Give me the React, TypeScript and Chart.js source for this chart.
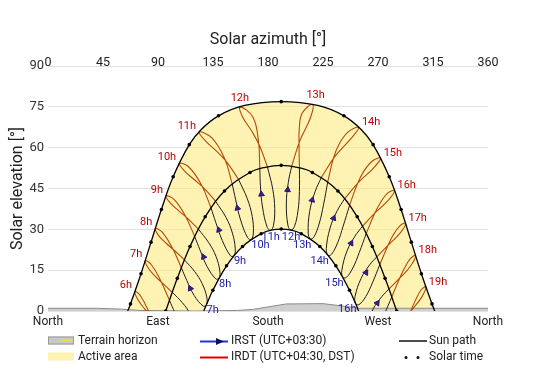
import React, { useEffect, useRef } from 'react';
import { Chart, registerables } from 'chart.js';

Chart.register(...registerables);

// ---------- axis labels ----------
const compassLabels = ['North', 'East', 'South', 'West', 'North'];
const irdtLabels = ['6h', '7h', '8h', '9h', '10h', '11h', '12h', '13h', '14h', '15h', '16h', '17h', '18h', '19h'];
const irstLabels = ['7h', '8h', '9h', '10h', '11h', '12h', '13h', '14h', '15h', '16h'];
const legendTexts = ['Terrain horizon', 'Active area', 'IRST (UTC+03:30)', 'IRDT (UTC+04:30, DST)', 'Sun path', 'Solar time'];

// ---------- sun paths (azimuth °, elevation °), solar-hour marks ----------
const summerAz = [65.2, 67.5, 76.1, 84.3, 92.8, 102.4, 115.6, 125.4, 139.5, 160.9, 190.8, 220.7, 242.1, 256.2, 266.0, 279.2, 288.9, 297.3, 305.5, 314.2, 316.4];
const summerEl = [0, 2.6, 13.7, 25.3, 37.3, 49.3, 61.1, 66.7, 71.7, 75.5, 76.9, 75.5, 71.7, 66.7, 61.1, 49.3, 37.3, 25.3, 13.7, 2.6, 0];
const summerMark = [0, 1, 1, 1, 1, 1, 1, 0, 1, 0, 1, 0, 1, 0, 1, 1, 1, 1, 1, 1, 0];

const equinoxAz = [96.3, 105.8, 116.2, 128.6, 144.4, 165.3, 177.7, 190.8, 203.9, 216.3, 237.2, 253.0, 265.4, 275.8, 285.3];
const equinoxEl = [0, 12.0, 23.7, 34.6, 44.1, 50.9, 52.8, 53.5, 52.8, 50.9, 44.1, 34.6, 23.7, 12.0, 0];
const equinoxMark = [1, 1, 1, 1, 1, 1, 0, 1, 0, 1, 1, 1, 1, 1, 1];

const winterAz = [127.4, 129.9, 134.9, 146.1, 159.2, 174.4, 182.5, 190.8, 199.1, 207.2, 222.4, 235.5, 246.7, 251.8, 254.2];
const winterEl = [0, 2.6, 7.6, 16.6, 23.7, 28.4, 29.7, 30.1, 29.7, 28.4, 23.7, 16.6, 7.6, 2.6, 0];
const winterMark = [0, 0, 1, 1, 1, 1, 0, 1, 0, 1, 1, 1, 1, 0, 0];

// ---------- analemma points: one value per clock hour 5h..18h IRST ----------
const marEqAz = [90.0, 99.4, 109.1, 120.0, 133.3, 150.7, 173.3, 199.4, 223.7, 242.8, 257.4, 269.0, 279.0, 288.4];
const marEqEl = [-8.1, 3.9, 15.9, 27.4, 38.0, 46.7, 52.3, 53.2, 49.1, 41.3, 31.2, 19.9, 8.1, -3.9];
const apr15Az = [82.9, 92.1, 101.6, 112.2, 125.6, 144.5, 172.2, 206.1, 234.8, 254.4, 268.2, 279.0, 288.5, 297.8];
const apr15El = [-0.7, 11.2, 23.3, 35.1, 46.3, 56.0, 62.3, 62.6, 56.8, 47.4, 36.3, 24.5, 12.4, 0.5];
const may15Az = [75.9, 84.6, 93.4, 103.1, 115.4, 134.1, 167.7, 214.8, 248.0, 266.5, 278.7, 288.4, 297.1, 305.9];
const may15El = [5.4, 17.0, 29.0, 41.0, 52.8, 63.6, 71.2, 71.1, 63.4, 52.6, 40.8, 28.8, 16.8, 5.2];
const jun21Az = [71.2, 79.6, 87.8, 96.6, 107.3, 123.6, 157.0, 216.5, 254.4, 272.2, 283.5, 292.5, 300.7, 309.1];
const jun21El = [7.2, 18.5, 30.3, 42.3, 54.3, 65.8, 75.0, 75.9, 67.5, 56.2, 44.2, 32.2, 20.4, 8.9];
const jul25Az = [73.6, 82.3, 90.9, 100.2, 111.6, 128.6, 159.3, 208.0, 245.4, 265.4, 278.1, 287.9, 296.6, 305.2];
const jul25El = [4.1, 15.6, 27.5, 39.6, 51.5, 62.6, 71.2, 72.7, 65.7, 55.1, 43.4, 31.3, 19.3, 7.7];
const aug15Az = [78.7, 87.8, 96.9, 107.0, 119.6, 137.9, 166.8, 205.6, 237.7, 258.1, 271.8, 282.3, 291.6, 300.6];
const aug15El = [1.0, 12.7, 24.8, 36.8, 48.3, 58.7, 66.0, 66.9, 60.9, 51.1, 39.7, 27.8, 15.7, 3.9];
const sep1Az = [84.2, 93.4, 103.0, 113.7, 127.2, 146.1, 173.0, 205.4, 233.2, 252.8, 266.7, 277.7, 287.2, 296.5];
const sep1El = [-1.6, 10.3, 22.4, 34.2, 45.3, 54.8, 60.8, 61.2, 55.6, 46.3, 35.3, 23.6, 11.5, -0.4];
const sepEqAz = [92.3, 101.7, 111.6, 123.0, 137.1, 155.7, 179.5, 205.7, 228.9, 246.8, 260.4, 271.5, 281.3, 290.7];
const sepEqEl = [-5.2, 6.9, 18.8, 30.1, 40.3, 48.5, 53.0, 52.6, 47.5, 38.9, 28.5, 17.1, 5.2, -6.9];
const oct15Az = [null, 110.0, 120.0, 131.5, 145.6, 163.1, 183.9, 205.7, 225.4, 241.5, 254.6, 265.4, 275.1, null];
const oct15El = [null, 3.0, 14.5, 25.1, 34.4, 41.2, 44.7, 43.9, 39.0, 31.2, 21.4, 10.3, -1.3, null];
const nov5Az = [null, 116.3, 126.1, 137.4, 150.9, 167.1, 185.5, 204.5, 222.0, 237.0, 249.4, 260.0, null, null];
const nov5El = [null, -1.0, 10.1, 20.1, 28.6, 34.7, 37.6, 36.7, 32.3, 25.1, 15.8, 5.3, null, null];
const dec1Az = [null, 120.5, 129.9, 140.6, 153.2, 168.0, 184.5, 201.6, 217.7, 231.9, 244.0, 254.3, null, null];
const dec1El = [null, -5.6, 5.1, 14.7, 22.8, 28.6, 31.5, 31.0, 27.3, 20.8, 12.3, 2.3, null, null];
const dec21Az = [null, null, 129.7, 140.0, 152.1, 166.3, 182.2, 198.8, 214.7, 229.0, 241.1, 251.6, null, null];
const dec21El = [null, null, 2.4, 12.1, 20.3, 26.3, 29.6, 29.7, 26.5, 20.5, 12.5, 2.8, null, null];
const jan10Az = [null, null, 127.1, 137.3, 149.3, 163.4, 179.4, 196.4, 212.9, 227.7, 240.4, 251.2, 260.6, null];
const jan10El = [null, null, 1.8, 11.8, 20.3, 26.9, 30.7, 31.3, 28.6, 22.9, 14.9, 5.3, -5.3, null];
const feb11Az = [null, 110.2, 119.6, 130.1, 142.6, 157.6, 175.5, 195.0, 214.1, 230.8, 244.6, 256.1, 266.1, null];
const feb11El = [null, -5.8, 5.7, 16.4, 25.9, 33.4, 38.2, 39.3, 36.6, 30.5, 22.0, 11.9, 0.8, null];
const mar5Az = [null, 103.9, 113.6, 124.4, 137.3, 153.6, 173.8, 196.6, 218.5, 236.7, 251.2, 262.9, 273.0, null];
const mar5El = [null, -0.6, 11.2, 22.4, 32.5, 40.8, 46.0, 47.2, 43.8, 36.9, 27.5, 16.8, 5.2, null];

// ---------- direction arrows on the IRST curves ----------
const arrowAz = [116.4, 127.3, 139.8, 155.0, 174.6, 196.1, 216.1, 233.7, 248.0, 260.2, 269.4];
const arrowEl = [8.3, 19.9, 29.8, 37.8, 42.9, 44.5, 40.8, 34.1, 24.9, 14.1, 2.9];
const arrowAngle = [-26, -23, -20, -14, -6, 5, 15, 22, 28, 32, 35];

// ---------- terrain horizon ----------
const terrainAz = [0, 40, 60, 75, 120, 155, 168, 180, 195, 225, 238, 255, 290, 360];
const terrainEl = [1.0, 1.0, 0.7, 0.2, 0.0, 0.2, 0.6, 1.5, 2.6, 2.7, 2.0, 1.0, 1.0, 1.0];

const FONT = 'Roboto, "Noto Sans", sans-serif';

type P = { x: number | null; y: number | null };
const toPts = (xs: (number | null)[], ys: (number | null)[]): P[] =>
  xs.map((x, i) => (x === null || ys[i] === null ? { x: null, y: null } : { x, y: ys[i] }));

const summerHalf: [(number | null)[], (number | null)[]][] = [
  [marEqAz, marEqEl], [apr15Az, apr15El], [may15Az, may15El], [jun21Az, jun21El],
  [jul25Az, jul25El], [aug15Az, aug15El], [sep1Az, sep1El], [sepEqAz, sepEqEl],
];
const winterHalf: [(number | null)[], (number | null)[]][] = [
  [sepEqAz, sepEqEl], [oct15Az, oct15El], [nov5Az, nov5El], [dec1Az, dec1El], [dec21Az, dec21El],
  [jan10Az, jan10El], [feb11Az, feb11El], [mar5Az, mar5El], [marEqAz, marEqEl],
];

const hourLabelPlugin = {
  id: 'hourLabels',
  afterDatasetsDraw(chart: any) {
    const { ctx } = chart;
    const xs = chart.scales.x;
    const ys = chart.scales.y;
    ctx.save();
    ctx.font = `11px ${FONT}`;
    ctx.textBaseline = 'middle';
    irdtLabels.forEach((lab, i) => {
      const az = jun21Az[i] as number;
      const px = xs.getPixelForValue(az);
      const py = ys.getPixelForValue(jun21El[i] as number);
      let align = 'left', dx = 3, dy = -5;
      if (az < 140) { align = 'right'; dx = -3; dy = -6; }
      else if (az < 240) { align = 'center'; dx = az > 190 ? 3 : 0; dy = -9; }
      ctx.textAlign = align;
      ctx.fillStyle = '#c00000';
      ctx.fillText(lab, px + dx, py + dy);
    });
    irstLabels.forEach((lab, k) => {
      const i = k + 2;
      const az = dec21Az[i] as number;
      const px = xs.getPixelForValue(az);
      const py = ys.getPixelForValue(dec21El[i] as number);
      let align = 'left', dx = 0, dy = 6;
      if (az > 175 && az < 205) { align = 'center'; dx = 0; dy = 7; }
      else if (az >= 205) { align = 'right'; dx = 1; dy = 6; }
      ctx.textAlign = align;
      ctx.fillStyle = '#1a1aa8';
      ctx.fillText(lab, px + dx, py + dy);
    });
    ctx.restore();
  },
};

const legendPlugin = {
  id: 'customLegend',
  afterDraw(chart: any) {
    const ctx = chart.ctx;
    const r1 = 340.5;
    const r2 = 356.5;
    const line = (x1: number, y1: number, x2: number, y2: number) => {
      ctx.beginPath(); ctx.moveTo(x1, y1); ctx.lineTo(x2, y2); ctx.stroke();
    };
    ctx.save();
    ctx.fillStyle = '#c9c9c9';
    ctx.fillRect(48, r1 - 4, 26, 8);
    ctx.strokeStyle = '#9a9a9a'; ctx.lineWidth = 1;
    ctx.strokeRect(48.5, r1 - 3.5, 25, 7);
    ctx.strokeStyle = '#f0dc4a'; ctx.lineWidth = 1.5;
    line(60, r1, 72, r1);
    ctx.fillStyle = '#fff1b0';
    ctx.fillRect(48, r2 - 4, 26, 8);
    ctx.strokeStyle = '#2236c8'; ctx.lineWidth = 2;
    line(200, r1 + 1, 228, r1 + 1);
    ctx.fillStyle = '#101060';
    ctx.beginPath(); ctx.moveTo(224, r1 + 1); ctx.lineTo(216, r1 - 2.5); ctx.lineTo(216, r1 + 4.5); ctx.closePath(); ctx.fill();
    ctx.strokeStyle = '#e00000'; ctx.lineWidth = 2;
    line(200, r2 + 1, 228, r2 + 1);
    ctx.strokeStyle = '#111'; ctx.lineWidth = 1.5;
    line(399, r1 + 0.5, 427, r1 + 0.5);
    ctx.fillStyle = '#111';
    [406, 418].forEach((x) => { ctx.beginPath(); ctx.arc(x, r2 + 1, 1.5, 0, Math.PI * 2); ctx.fill(); });
    ctx.font = `12px ${FONT}`;
    ctx.fillStyle = '#222';
    ctx.textBaseline = 'middle';
    ctx.textAlign = 'left';
    ctx.fillText(legendTexts[0], 78, r1);
    ctx.fillText(legendTexts[1], 78, r2);
    ctx.fillText(legendTexts[2], 231, r1);
    ctx.fillText(legendTexts[3], 231, r2);
    ctx.fillText(legendTexts[4], 429, r1);
    ctx.fillText(legendTexts[5], 429, r2);
    ctx.restore();
  },
};

export default function App() {
  const ref = useRef<HTMLCanvasElement>(null);

  useEffect(() => {
    document.body.style.margin = '0';
    const canvas = ref.current;
    if (!canvas) return;

    const datasets: any[] = [];
    const winterBase: P[] = [
      { x: summerAz[0], y: 0 },
      ...toPts(winterAz, winterEl),
      { x: summerAz[summerAz.length - 1], y: 0 },
    ];
    datasets.push({ data: winterBase, borderWidth: 0, borderColor: 'transparent', pointRadius: 0, fill: false, tension: 0.4, order: 101 });
    datasets.push({ data: toPts(summerAz, summerEl), borderWidth: 0, borderColor: 'transparent', backgroundColor: 'rgba(255,234,125,0.58)', pointRadius: 0, fill: 0, tension: 0.4, order: 100 });
    datasets.push({ data: toPts(terrainAz, terrainEl), borderWidth: 1, borderColor: '#8a8a8a', backgroundColor: '#cfcfcf', pointRadius: 0, fill: 'origin', tension: 0, order: 90 });

    for (let i = 0; i < marEqAz.length; i++) {
      const red = summerHalf.map(([a, e]) => (a[i] === null || e[i] === null ? { x: null, y: null } : { x: a[i], y: e[i] }));
      if (red.some((p) => p.y !== null && (p.y as number) > 0)) {
        datasets.push({ data: red, borderColor: '#b44a06', borderWidth: 1.1, pointRadius: 0, fill: false, tension: 0.4, spanGaps: false, order: 50 });
      }
      const blk = winterHalf.map(([a, e]) => (a[i] === null || e[i] === null ? { x: null, y: null } : { x: a[i], y: e[i] }));
      if (blk.some((p) => p.y !== null && (p.y as number) > 0)) {
        datasets.push({ data: blk, borderColor: '#1c1c22', borderWidth: 1, pointRadius: 0, fill: false, tension: 0.4, spanGaps: false, order: 40 });
      }
    }

    const paths: [number[], number[], number[]][] = [
      [summerAz, summerEl, summerMark],
      [equinoxAz, equinoxEl, equinoxMark],
      [winterAz, winterEl, winterMark],
    ];
    paths.forEach(([a, e, m]) => {
      datasets.push({
        data: toPts(a, e),
        borderColor: '#000',
        borderWidth: 1.3,
        backgroundColor: '#000',
        pointBackgroundColor: '#000',
        pointBorderWidth: 0,
        pointRadius: m.map((v) => (v ? 1.8 : 0)),
        fill: false,
        tension: 0.4,
        order: 10,
      });
    });

    datasets.push({
      data: toPts(arrowAz, arrowEl),
      showLine: false,
      pointStyle: 'triangle',
      pointRadius: 3.3,
      pointRotation: arrowAngle,
      pointBackgroundColor: '#34208f',
      pointBorderColor: '#24146e',
      pointBorderWidth: 1,
      order: 5,
    });

    const chart = new Chart(canvas, {
      type: 'line',
      data: { datasets },
      options: {
        animation: false,
        responsive: false,
        devicePixelRatio: 1,
        layout: { padding: { left: 0, right: 60, top: 0, bottom: 0 } },
        plugins: { legend: { display: false }, tooltip: { enabled: false } },
        events: [],
        scales: {
          x: {
            type: 'linear',
            position: 'bottom',
            min: 0,
            max: 360,
            grid: { display: false, drawTicks: false },
            border: { display: false },
            ticks: {
              stepSize: 90,
              autoSkip: false,
              maxRotation: 0,
              padding: 4,
              color: '#222',
              font: { size: 12, family: FONT },
              callback: (v: any) => compassLabels[Math.round(Number(v) / 90)] ?? '',
            },
            afterFit: (s: any) => { s.height = 76; },
          },
          x2: {
            type: 'linear',
            position: 'top',
            min: 0,
            max: 360,
            grid: { display: false, drawTicks: false },
            border: { display: false },
            ticks: {
              stepSize: 45,
              autoSkip: false,
              maxRotation: 0,
              padding: -4,
              color: '#222',
              font: { size: 12.5, family: FONT },
            },
            title: {
              display: true,
              text: 'Solar azimuth [°]',
              color: '#222',
              font: { size: 16, family: FONT },
              padding: { top: 30, bottom: 4 },
            },
            afterFit: (s: any) => { s.height = 66; },
          },
          y: {
            type: 'linear',
            min: 0,
            max: 90,
            grid: { color: '#e2e2e2', lineWidth: 1, drawTicks: false },
            border: { display: false },
            ticks: {
              stepSize: 15,
              padding: 4,
              color: '#333',
              font: { size: 13, family: FONT },
            },
            title: {
              display: true,
              text: 'Solar elevation [°]',
              color: '#222',
              font: { size: 16, family: FONT },
              padding: { top: 8, bottom: 0 },
            },
            afterFit: (s: any) => { s.width = 48; },
          },
        },
      } as any,
      plugins: [hourLabelPlugin, legendPlugin],
    });

    return () => chart.destroy();
  }, []);

  return (
    <div style={{ position: 'absolute', left: 0, top: 0, width: 548, height: 387, background: '#fff' }}>
      <canvas ref={ref} width={548} height={387} style={{ display: 'block' }} />
    </div>
  );
}
